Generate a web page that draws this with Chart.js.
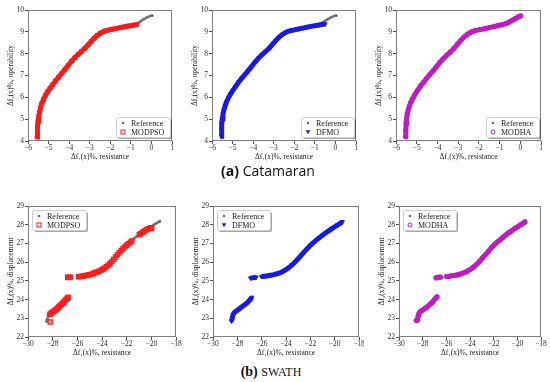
<!DOCTYPE html>
<html>
<head>
<meta charset="utf-8">
<script src="https://cdn.jsdelivr.net/npm/chart.js@4.4.1/dist/chart.umd.min.js"></script>
<style>
  body { margin: 0; background: #fff; }
  #wrap { position: relative; width: 550px; height: 382px; overflow: hidden; }
  canvas { position: absolute; }
  .cap { position: absolute; width: 550px; text-align: center; color: #111; }
</style>
</head>
<body>
<div id="wrap">
  <canvas id="c1"></canvas><canvas id="c2"></canvas><canvas id="c3"></canvas>
  <canvas id="c4"></canvas><canvas id="c5"></canvas><canvas id="c6"></canvas>
  <div class="cap" style="top:161px;left:-7px;font:14px 'Open Sans';"><b>(a)</b> Catamaran</div>
  <div class="cap" style="top:364px;left:-4px;font:14px 'Liberation Serif';"><b>(b)</b> <span style="font-size:12px">SWATH</span></div>
</div>
<script>
// ---- Catamaran ----
const catRefX = [-5.56,-5.55,-5.54,-5.52,-5.5,-5.47,-5.43,-5.38,-5.32,-5.24,-5.16,-5.06,-4.95,-4.84,-4.7,-4.56,-4.44,-4.3,-4.15,-3.97,-3.8,-3.65,-3.49,-3.35,-3.2,-3.02,-2.88,-2.75,-2.6,-2.43,-2.25,-2.05,-1.85,-1.65,-1.45,-1.25,-1.05,-0.9,-0.75,-0.62,-0.5,-0.38,-0.25,-0.12,0.0,0.05]
const catRefY = [4.15,4.35,4.6,4.8,5.0,5.2,5.4,5.58,5.77,5.93,6.08,6.24,6.38,6.54,6.72,6.88,7.0,7.16,7.34,7.54,7.72,7.86,8.0,8.13,8.28,8.46,8.62,8.76,8.88,8.98,9.05,9.1,9.14,9.18,9.22,9.26,9.3,9.33,9.36,9.42,9.5,9.57,9.64,9.7,9.74,9.75]

const catPsoX = [-5.56,-5.55,-5.53,-5.51,-5.48,-5.44,-5.39,-5.33,-5.25,-5.16,-5.05,-4.93,-4.8,-4.66,-4.52,-4.38,-4.22,-4.05,-3.88,-3.72,-3.56,-3.4,-3.24,-3.08,-2.93,-2.79,-2.64,-2.48,-2.3,-2.1,-1.9,-1.7,-1.5,-1.3,-1.1,-0.9,-0.72]
const catPsoY = [4.18,4.4,4.68,4.9,5.12,5.32,5.52,5.72,5.9,6.08,6.25,6.42,6.58,6.76,6.92,7.08,7.26,7.46,7.66,7.82,7.97,8.1,8.24,8.4,8.56,8.7,8.83,8.94,9.03,9.08,9.12,9.16,9.2,9.23,9.27,9.3,9.33]

const catDfmoX = [-5.55,-5.54,-5.52,-5.5,-5.47,-5.42,-5.36,-5.29,-5.2,-5.1,-4.98,-4.85,-4.7,-4.55,-4.4,-4.24,-4.07,-3.9,-3.73,-3.56,-3.39,-3.22,-3.05,-2.9,-2.75,-2.58,-2.4,-2.2,-2.0,-1.8,-1.6,-1.4,-1.2,-1.0,-0.8,-0.62,-0.5]
const catDfmoY = [4.22,4.5,4.8,5.02,5.22,5.42,5.62,5.8,5.98,6.15,6.33,6.5,6.7,6.88,7.04,7.22,7.42,7.62,7.8,7.96,8.1,8.25,8.44,8.6,8.75,8.88,8.98,9.05,9.09,9.13,9.17,9.21,9.25,9.28,9.31,9.34,9.36]

const catModhaX = [-5.54,-5.53,-5.51,-5.49,-5.46,-5.41,-5.35,-5.27,-5.18,-5.08,-4.96,-4.83,-4.68,-4.53,-4.38,-4.22,-4.05,-3.88,-3.71,-3.54,-3.37,-3.2,-3.03,-2.88,-2.72,-2.55,-2.37,-2.17,-1.95,-1.72,-1.5,-1.28,-1.06,-0.86,-0.7,-0.55,-0.4,-0.25,-0.1,0.02]
const catModhaY = [4.2,4.5,4.8,5.02,5.22,5.42,5.62,5.8,5.97,6.14,6.32,6.5,6.68,6.86,7.03,7.2,7.4,7.6,7.78,7.94,8.08,8.24,8.44,8.6,8.76,8.89,8.99,9.06,9.1,9.14,9.19,9.24,9.29,9.33,9.37,9.44,9.52,9.6,9.68,9.73]

// ---- SWATH (null y = break in the front) ----
const swRefX = [-28.5,-28.45,-28.38,-28.3,-28.2,-28.05,-27.9,-27.75,-27.6,-27.45,-27.3,-27.15,-27.0,-26.88,-26.78, -26.8,
  -26.9,-26.8,-26.7,-26.6,-26.5,-26.44, -26.2,
  -26.0,-25.8,-25.6,-25.4,-25.2,-25.0,-24.8,-24.6,-24.4,-24.2,-24.0,-23.8,-23.6,-23.4,-23.2,-23.0,-22.8,-22.6,-22.4,-22.2,-22.0,-21.8,-21.6,-21.4,-21.2,-21.0,-20.8,-20.6,-20.4,-20.2,-20.0,-19.8,-19.6,-19.4,-19.3]
const swRefY = [22.82,22.95,23.15,23.28,23.34,23.4,23.46,23.52,23.6,23.68,23.76,23.86,23.98,24.06,24.14, null,
  25.16,25.17,25.18,25.18,25.19,25.2, null,
  25.22,25.24,25.26,25.28,25.3,25.33,25.37,25.41,25.46,25.52,25.6,25.69,25.8,25.93,26.07,26.2,26.34,26.5,26.66,26.8,26.93,27.05,27.16,27.27,27.37,27.47,27.57,27.66,27.75,27.84,27.92,28.0,28.08,28.15,28.18]

const swPsoX = [-28.2, -28.22,-28.12,-28.02,-27.92,-27.82,-27.72,-27.62,-27.52,-27.42,-27.3,-27.2,-27.1,-27.0,-26.9,-26.8,-26.74,
  -26.78,-26.68,-26.58,
  -25.9,-25.75,-25.6,-25.45,-25.3,-25.15,-25.0,-24.85,-24.7,-24.55,-24.4,-24.25,-24.1,-23.95,-23.8,-23.65,-23.5,-23.35,-23.2,-23.05,-22.9,-22.75,-22.6,-22.45,-22.3,-22.15,-22.0,-21.85,-21.7,-21.58,
  -20.98,-20.85,-20.7,-20.55,-20.4,-20.25,-20.05,-19.98]
const swPsoY = [22.8, 23.22,23.28,23.33,23.37,23.42,23.47,23.54,23.6,23.66,23.74,23.8,23.86,23.94,24.02,24.08,24.13,
  25.18,25.19,25.2,
  25.22,25.23,25.25,25.27,25.29,25.31,25.33,25.36,25.39,25.43,25.47,25.51,25.56,25.62,25.68,25.76,25.84,25.93,26.04,26.15,26.27,26.39,26.5,26.62,26.72,26.81,26.9,26.99,27.07,27.13,
  27.46,27.52,27.6,27.66,27.73,27.79,27.84,27.8]

const swDfmoX = [-28.48,-28.42,-28.35,-28.25,-28.1,-27.95,-27.8,-27.65,-27.5,-27.35,-27.2,-27.05,-26.92,-26.8, -26.85,
  -26.92,-26.8,-26.68,-26.56,-26.45, -26.2,
  -26.02,-25.75,-25.5,-25.25,-25.0,-24.75,-24.5,-24.25,-24.0,-23.75,-23.5,-23.25,-23.0,-22.75,-22.5,-22.25,-22.0,-21.75,-21.5,-21.25,-21.0,-20.75,-20.5,-20.25,-20.0,-19.75,-19.5,-19.38]
const swDfmoY = [22.85,23.0,23.2,23.3,23.38,23.45,23.52,23.6,23.67,23.74,23.82,23.92,24.02,24.12, null,
  25.15,25.16,25.17,25.18,25.2, null,
  25.23,25.25,25.27,25.3,25.33,25.38,25.43,25.5,25.6,25.71,25.85,26.01,26.18,26.36,26.55,26.72,26.9,27.04,27.18,27.31,27.44,27.56,27.67,27.78,27.89,27.99,28.09,28.16]

const swModhaX = [-28.55,-28.45,-28.38,-28.3,-28.2,-28.05,-27.9,-27.75,-27.6,-27.45,-27.3,-27.15,-27.0,-26.88,-26.78, -26.8,
  -26.88,-26.78,-26.68,-26.58,-26.48, -26.2,
  -25.98,-25.72,-25.46,-25.2,-24.95,-24.7,-24.45,-24.2,-23.95,-23.7,-23.45,-23.2,-22.95,-22.7,-22.45,-22.2,-21.95,-21.7,-21.45,-21.2,-20.95,-20.7,-20.45,-20.2,-19.95,-19.7,-19.45,-19.35]
const swModhaY = [22.88,22.9,23.1,23.28,23.36,23.42,23.48,23.55,23.62,23.7,23.78,23.88,24.0,24.08,24.15, null,
  25.16,25.17,25.18,25.19,25.2, null,
  25.23,25.25,25.28,25.3,25.34,25.39,25.45,25.52,25.62,25.74,25.88,26.04,26.22,26.4,26.58,26.76,26.93,27.07,27.2,27.33,27.46,27.58,27.69,27.8,27.9,28.0,28.1,28.16]

const serif = '"Liberation Serif", "DejaVu Serif", serif'

function pts(xs, ys) {
    return xs.map((x, i) => ({x: x, y: ys[i]}))
}

function refSet(xs, ys) {
    return {
        data: pts(xs, ys), showLine: true, spanGaps: false,
        borderColor: '#7f7f7f', borderWidth: 2.5,
        pointRadius: 1.3, pointBackgroundColor: '#6f6f6f', pointBorderWidth: 0,
        order: 2
    }
}

// frame around the plot area + legend box with shadow (matplotlib look)
const boxPlugin = {
    id: 'boxPlugin',
    afterDatasetsDraw(chart, args, opts) {
        const ctx = chart.ctx
        const a = chart.chartArea
        ctx.save()
        ctx.strokeStyle = '#808080'
        ctx.lineWidth = 1
        ctx.strokeRect(a.left + 0.5, a.top + 0.5, a.right - a.left - 1, a.bottom - a.top - 1)

        ctx.font = '8px ' + serif
        let tw = 0
        opts.items.forEach(it => { tw = Math.max(tw, ctx.measureText(it.label).width) })
        const w = Math.round(tw + 21), h = 20
        let x, y
        if (opts.corner === 'br') { x = a.right - 2 - w; y = a.bottom - 4 - h }
        else { x = a.left + 4; y = a.top + 4 }

        ctx.fillStyle = 'rgba(0,0,0,0.35)'
        ctx.beginPath(); ctx.roundRect(x + 2, y + 2, w, h, 2); ctx.fill()
        ctx.fillStyle = '#fff'
        ctx.strokeStyle = '#cfcfcf'
        ctx.beginPath(); ctx.roundRect(x + 0.5, y + 0.5, w, h, 2); ctx.fill(); ctx.stroke()

        opts.items.forEach((it, i) => {
            const cy = y + 6 + i * 9
            const mx = x + 7
            ctx.fillStyle = it.color
            ctx.strokeStyle = it.color
            ctx.lineWidth = 1
            ctx.beginPath()
            if (it.style === 'dot') { ctx.arc(mx, cy, 1.3, 0, Math.PI * 2); ctx.fill() }
            else if (it.style === 'rect') { ctx.strokeRect(mx - 2, cy - 2, 4, 4) }
            else if (it.style === 'circle') { ctx.arc(mx, cy, 2, 0, Math.PI * 2); ctx.stroke() }
            else { ctx.moveTo(mx - 2.3, cy - 1.8); ctx.lineTo(mx + 2.3, cy - 1.8); ctx.lineTo(mx, cy + 2.2); ctx.closePath(); ctx.fill() }
            ctx.fillStyle = '#222'
            ctx.textBaseline = 'middle'
            ctx.fillText(it.label, x + 15, cy + 0.5)
        })
        ctx.restore()
    }
}

function minusFmt(v) {
    return String(v).replace('-', '\u2212')
}

function makeChart(id, box, xr, yr, xTitle, yTitle, datasets, legend) {
    const cv = document.getElementById(id)
    cv.width = box.W; cv.height = box.H
    cv.style.left = box.L + 'px'; cv.style.top = box.T + 'px'
    const tickFont = {family: serif, size: 7.5}
    return new Chart(cv, {
        type: 'scatter',
        data: {datasets: datasets},
        options: {
            responsive: false,
            animation: false,
            devicePixelRatio: 1,
            layout: {padding: {left: 0, top: box.pt, right: box.pr, bottom: 0}},
            plugins: {legend: {display: false}, tooltip: {enabled: false}, boxPlugin: legend},
            scales: {
                x: {
                    type: 'linear', min: xr[0], max: xr[1],
                    afterFit(s) { s.height = box.xh; s.paddingLeft = 0; s.paddingRight = 0 },
                    ticks: {stepSize: xr[2], font: tickFont, color: '#333', padding: 0, maxRotation: 0, callback: minusFmt},
                    grid: {drawOnChartArea: false, tickLength: 3, color: '#555'},
                    border: {display: false},
                    title: {display: true, text: xTitle, font: tickFont, color: '#222', padding: {top: box.xt, bottom: 0}}
                },
                y: {
                    type: 'linear', min: yr[0], max: yr[1],
                    afterFit(s) { s.width = box.yw; s.paddingTop = 0; s.paddingBottom = 0 },
                    ticks: {stepSize: 1, font: tickFont, color: '#333', padding: 1, callback: minusFmt},
                    grid: {drawOnChartArea: false, tickLength: 3, color: '#555'},
                    border: {display: false},
                    title: {display: true, text: yTitle, font: tickFont, color: '#222', padding: {top: box.yw - 17 - 4.5, bottom: 0}}
                }
            }
        },
        plugins: [boxPlugin]
    })
}

const catX = [-6, 1, 1], catY = [4, 10]
const swX = [-30, -18, 2], swY = [22, 29]
const xt1 = 'Δf\u2081(x)%, resistance'
const ytCat = 'Δf\u2082(x)%, operability'
const ytSw = 'Δf\u2082(x)%, displacement'

const RED = '#ff1a1a', BLUE = '#1a1ae6', MAG = '#c21bc2', GRAY = '#6f6f6f'

function algoLine(xs, ys, color, style, rot, r, fill) {
    return {
        data: pts(xs, ys), showLine: true, spanGaps: false,
        borderColor: color, borderWidth: 5,
        pointStyle: style, rotation: rot, pointRadius: r,
        pointBorderColor: color, pointBackgroundColor: fill, pointBorderWidth: 1,
        order: 1
    }
}

makeChart('c1', {L: 0, T: 0, W: 184, H: 162, yw: 28, pt: 10, pr: 12, xh: 21, xt: 2.5}, catX, catY, xt1, ytCat,
    [algoLine(catPsoX, catPsoY, RED, 'rect', 0, 2.6, RED), refSet(catRefX, catRefY)],
    {corner: 'br', items: [{label: 'Reference', style: 'dot', color: GRAY}, {label: 'MODPSO', style: 'rect', color: RED}]})

makeChart('c2', {L: 180, T: 0, W: 184, H: 162, yw: 32, pt: 10, pr: 8, xh: 21, xt: 2.5}, catX, catY, xt1, ytCat,
    [algoLine(catDfmoX, catDfmoY, BLUE, 'triangle', 180, 2.3, BLUE), refSet(catRefX, catRefY)],
    {corner: 'br', items: [{label: 'Reference', style: 'dot', color: GRAY}, {label: 'DFMO', style: 'tri', color: BLUE}]})

makeChart('c3', {L: 362, T: 0, W: 188, H: 162, yw: 34, pt: 10, pr: 9, xh: 21, xt: 2.5}, catX, catY, xt1, ytCat,
    [algoLine(catModhaX, catModhaY, MAG, 'circle', 0, 2.2, MAG), refSet(catRefX, catRefY)],
    {corner: 'br', items: [{label: 'Reference', style: 'dot', color: GRAY}, {label: 'MODHA', style: 'circle', color: MAG}]})

makeChart('c4', {L: 0, T: 192, W: 184, H: 166, yw: 28, pt: 14, pr: 8, xh: 21, xt: 1.5}, swX, swY, xt1, ytSw,
    [{data: pts(swPsoX, swPsoY), pointStyle: 'rect', pointRadius: 3, pointBorderColor: RED,
      pointBackgroundColor: 'rgba(255,40,40,0.45)', pointBorderWidth: 1.2, order: 1},
     refSet(swRefX, swRefY)],
    {corner: 'tl', items: [{label: 'Reference', style: 'dot', color: GRAY}, {label: 'MODPSO', style: 'rect', color: RED}]})

makeChart('c5', {L: 180, T: 192, W: 184, H: 166, yw: 33, pt: 14, pr: 5, xh: 21, xt: 1.5}, swX, swY, xt1, ytSw,
    [algoLine(swDfmoX, swDfmoY, BLUE, 'triangle', 180, 2.3, BLUE), refSet(swRefX, swRefY)],
    {corner: 'tl', items: [{label: 'Reference', style: 'dot', color: GRAY}, {label: 'DFMO', style: 'tri', color: BLUE}]})

makeChart('c6', {L: 362, T: 192, W: 188, H: 166, yw: 37, pt: 14, pr: 9, xh: 21, xt: 1.5}, swX, swY, xt1, ytSw,
    [algoLine(swModhaX, swModhaY, MAG, 'circle', 0, 2.2, MAG), refSet(swRefX, swRefY)],
    {corner: 'tl', items: [{label: 'Reference', style: 'dot', color: GRAY}, {label: 'MODHA', style: 'circle', color: MAG}]})
</script>
</body>
</html>
